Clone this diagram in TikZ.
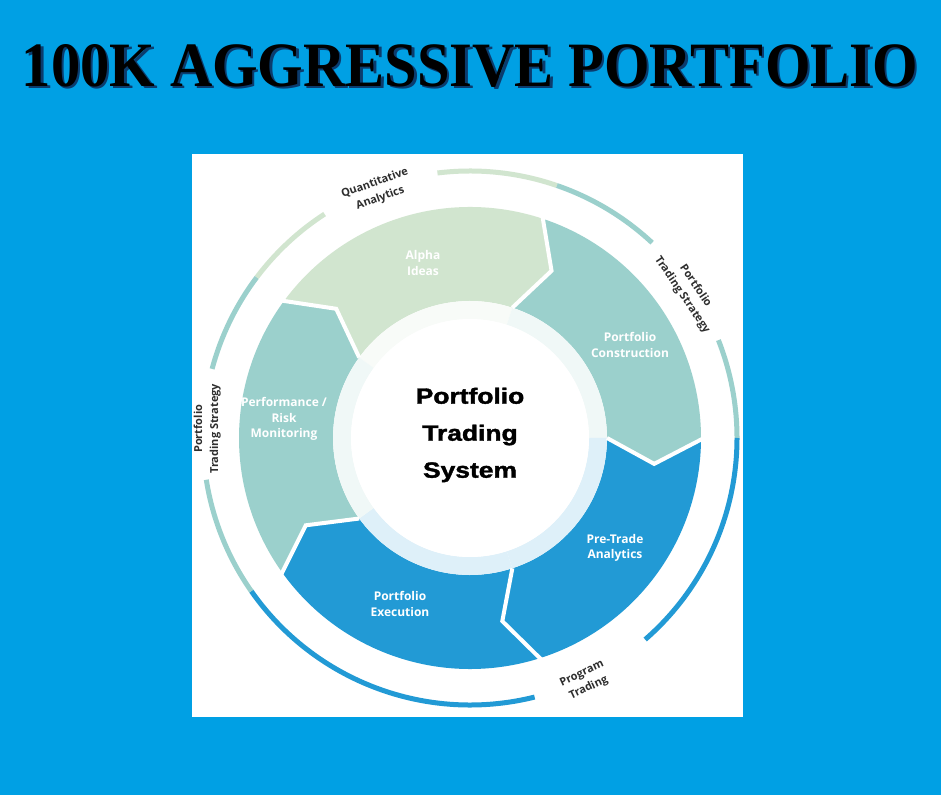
\documentclass[tikz,border=0pt]{standalone}
\usepackage{fontspec}
\setmainfont{Open Sans}
\newfontfamily\titlefont{Liberation Serif}
\newfontfamily\hubfont[BoldFeatures={FakeBold=1.6}]{Liberation Sans}
\usetikzlibrary{positioning}
\definecolor{bgblue}{HTML}{00A0E4}
\definecolor{segblue}{HTML}{229AD5}
\definecolor{segteal}{HTML}{9BD0CC}
\definecolor{seggreen}{HTML}{D1E5CF}
\definecolor{labgray}{HTML}{2E2E2E}
\definecolor{titleshade}{HTML}{0B3C6E}
\newcommand{\titletext}{100K AGGRESSIVE PORTFOLIO}
\tikzset{
  seglabel/.style={text=white,font=\fontsize{12}{15.5}\selectfont\bfseries,align=center},
  ringlabel/.style={text=labgray,font=\fontsize{11}{16}\selectfont\bfseries,align=center},
  hublabel/.style={font=\hubfont\bfseries\fontsize{22}{37}\selectfont,align=center},
  gapline/.style={white,line width=4pt},
  track/.style={line width=5pt}
}
\begin{document}
\begin{tikzpicture}[x=1pt,y=1pt]
\useasboundingbox[fill=bgblue] (0,0) rectangle (941,795);
\node[anchor=base] (title) at (470,708) {\resizebox{896pt}{42pt}{\titlefont\bfseries
  \rlap{\kern0.4pt\raisebox{-0.3pt}{\color{titleshade}\titletext}}\titletext}};
\fill[white] (192,78) rectangle (743,641);
\coordinate (c) at (470,357);
\begin{scope}[shift={(c)}]
  % five chevron segments, clockwise
  \foreach \a/\b/\col in {144/72/seggreen,72/0/segteal,0/-72/segblue,-72/-144/segblue,216/144/segteal}{
    \fill[\col] (\a:231) arc[start angle=\a,end angle=\b,radius=231]
      -- (\b-8:186) -- (\b:137) arc[start angle=\b,end angle=\a,radius=137]
      -- (\a-8:186) -- cycle;
    \fill[\col!15] (\b:137) arc[start angle=\b,end angle=\a,radius=137]
      -- (\a:119) arc[start angle=\a,end angle=\b,radius=119] -- cycle;
  }
  \foreach \a in {144,72,0,-72,-144}
    \draw[gapline] (\a:234) -- (\a-8:186) -- (\a:137);
  \fill[white] (0,0) circle[radius=119];
  % outer track
  \foreach \s/\e/\col in {97/71/seggreen,71/47/segteal,21.5/0/segteal,0/-49/segblue,
      -76/-145/segblue,-145/-171/segteal,165/143/segteal,143/123/seggreen}
    \draw[track,\col] (\s:267) arc[start angle=\s,end angle=\e,radius=267];
  \node[hublabel] (hub) at (0,3) {\scalebox{1.2}[1]{Portfolio}\\\scalebox{1.2}[1]{Trading}\\\scalebox{1.2}[1]{System}};
  \node[seglabel] (alpha) at (-47,175) {Alpha\\Ideas};
  \node[seglabel] (construct) at (160,93) {Portfolio\\Construction};
  \node[seglabel] (pretrade) at (145,-110) {Pre-Trade\\Analytics};
  \node[seglabel] (execute) at (-70,-166) {Portfolio\\Execution};
  \node[seglabel] (perform) at (-186,19) {Performance /\\Risk\\Monitoring};
  \node[ringlabel,rotate=20] (quant) at (110.5:264) {Quantitative\\Analytics};
  \node[ringlabel,rotate=-56] (stratright) at (34:264) {Portfolio\\Trading Strategy};
  \node[ringlabel,rotate=90] (stratleft) at (178:263) {Portfolio\\Trading Strategy};
  \node[ringlabel,rotate=25] (program) at (-64.6:269) {Program\\Trading};
\end{scope}
\end{tikzpicture}
\end{document}
